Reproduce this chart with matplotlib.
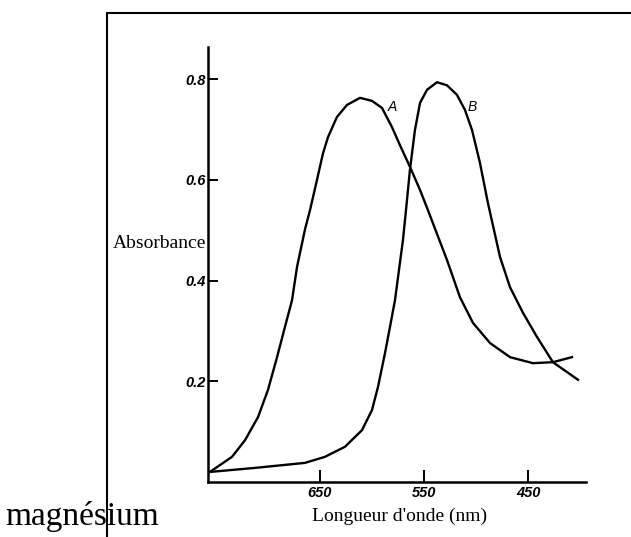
import matplotlib
matplotlib.use("Agg")
import matplotlib.pyplot as plt
from matplotlib.lines import Line2D

# ========== DATA ==========
# curve A: wavelength (nm), absorbance
wl_a = [755.8, 734.6, 722.1, 709.6, 700.0, 691.3, 683.7, 676.9, 672.1, 664.4,
        659.6, 652.9, 647.1, 642.3, 633.7, 624.0, 611.5, 600.0, 590.4, 580.8,
        573.1, 563.5, 553.8, 546.2, 527.9, 515.4, 502.9, 486.5, 467.3,
        445.2, 426.0, 407.7]
abs_a = [0.020, 0.050, 0.083, 0.129, 0.183, 0.248, 0.308, 0.361, 0.427, 0.502,
         0.540, 0.600, 0.653, 0.685, 0.725, 0.749, 0.763, 0.757, 0.743, 0.705,
         0.669, 0.626, 0.580, 0.540, 0.441, 0.367, 0.316, 0.276, 0.248,
         0.236, 0.238, 0.248]

# curve B
wl_b = [755.8, 712.5, 664.4, 645.2, 626.0, 609.6, 600.0, 594.2, 587.5, 582.7,
        577.9, 570.2, 567.3, 563.5, 558.7, 553.8, 547.1, 537.5, 527.9, 518.3,
        510.6, 503.8, 496.2, 488.5, 476.9, 467.3, 454.8, 441.3, 426.0,
        401.9]
abs_b = [0.020, 0.028, 0.038, 0.050, 0.070, 0.103, 0.143, 0.189, 0.256, 0.308,
         0.361, 0.481, 0.540, 0.620, 0.699, 0.753, 0.779, 0.794, 0.788, 0.769,
         0.739, 0.699, 0.634, 0.554, 0.447, 0.387, 0.336, 0.288, 0.238,
         0.203]

x_ticks = [650, 550, 450]
y_ticks = [0.2, 0.4, 0.6, 0.8]
y_tick_labels = ["0.2", "0.4", "0.6", "0.8"]

# ========== FIGURE ==========
fig = plt.figure(figsize=(6.31, 5.37), dpi=100)
ax = fig.add_axes([208 / 631, 1 - 482 / 537, (586 - 208) / 631, (482 - 47) / 537])

ax.plot(wl_a, abs_a, color="black", lw=1.7, solid_joinstyle="round")
ax.plot(wl_b, abs_b, color="black", lw=1.7, solid_joinstyle="round")

ax.set_xlim(757.7, 394.2)
ax.set_ylim(0, 0.864)

for side in ["top", "right"]:
    ax.spines[side].set_visible(False)
for side in ["left", "bottom"]:
    ax.spines[side].set_linewidth(1.8)

tick_font = dict(family="Liberation Sans", style="italic", weight="bold", size=10.5)
ax.set_xticks(x_ticks)
ax.set_xticklabels([str(t) for t in x_ticks], fontdict=tick_font)
ax.set_yticks(y_ticks)
ax.set_yticklabels(y_tick_labels, fontdict=tick_font)
ax.tick_params(axis="x", direction="in", length=8.6, width=1.4, pad=3)
ax.tick_params(axis="y", direction="in", length=7.2, width=1.4, pad=1.5)

# curve labels
label_font = dict(family="Liberation Sans", style="italic", size=10)
ax.text(580.8, 0.745, "A", fontdict=label_font, ha="center", va="center")
ax.text(503.8, 0.745, "B", fontdict=label_font, ha="center", va="center")

# axis titles placed as in the scan
fig.text(113 / 631, 1 - 243 / 537, "Absorbance", family="Liberation Serif", size=14,
         ha="left", va="center")
fig.text(400 / 631, 1 - 516 / 537, "Longueur d'onde (nm)", family="Liberation Serif", size=14,
         ha="center", va="center")
fig.text(5 / 631, 1 - 516 / 537, "magnésium", family="Liberation Serif", size=24,
         ha="left", va="center")

# outer frame (top and left edges only)
fig.add_artist(Line2D([107 / 631, 1.0], [1 - 13 / 537, 1 - 13 / 537], color="black", lw=1.5))
fig.add_artist(Line2D([107 / 631, 107 / 631], [1 - 13 / 537, 0.0], color="black", lw=1.5))

fig.savefig("out.png", dpi=100)
